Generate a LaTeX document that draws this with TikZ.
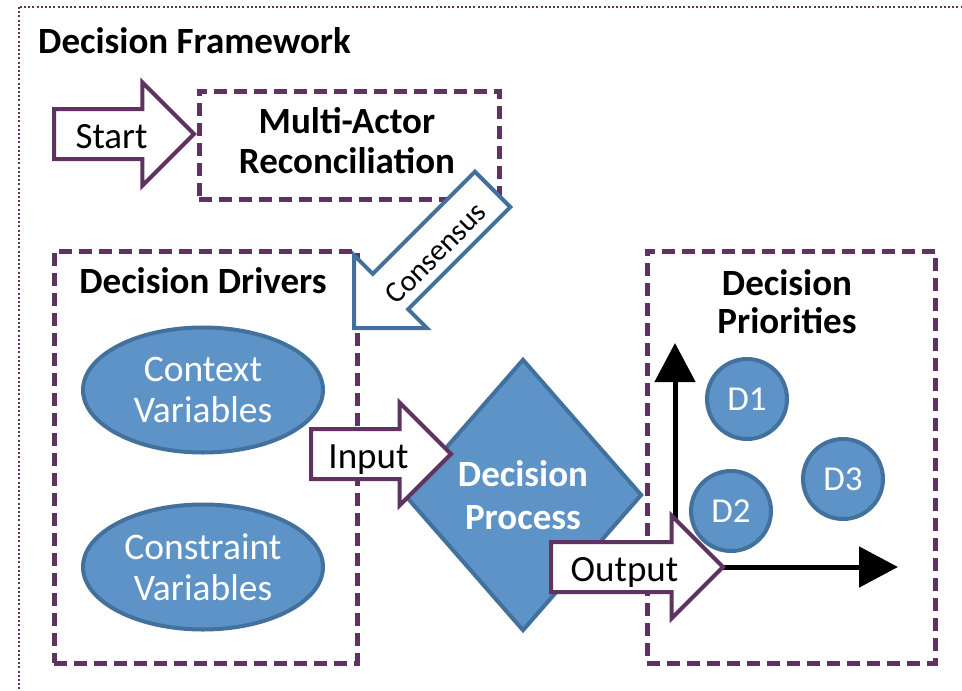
\documentclass[tikz,border=0pt]{standalone}
\usepackage{fontspec}
\setmainfont{Carlito}
\usetikzlibrary{shapes.geometric,shapes.arrows,arrows.meta,positioning}

\definecolor{fwpurple}{RGB}{94,51,96}
\definecolor{fwblue}{RGB}{94,147,199}
\definecolor{fwedge}{RGB}{65,113,156}

\tikzset{
  framedots/.style={draw=fwpurple, line width=2.2pt, dash pattern=on 2pt off 2.2pt},
  dashbox/.style={draw=fwpurple, line width=4.5pt, dash pattern=on 13pt off 7pt, inner sep=0pt},
  heading/.style={font=\bfseries\fontsize{37}{40}\selectfont, align=center, inner sep=0pt},
  blob/.style={ellipse, draw=fwedge, fill=fwblue, line width=4pt, text=white,
    font=\fontsize{37.5}{41}\selectfont, align=center, inner sep=0pt,
    minimum width=240pt, minimum height=125pt},
  process/.style={diamond, draw=fwedge, fill=fwblue, line width=4pt, text=white,
    font=\bfseries\fontsize{37}{43}\selectfont, align=center, inner sep=0pt,
    minimum width=238pt, minimum height=272pt},
  prio/.style={circle, draw=fwedge, fill=fwblue, line width=4pt, text=white,
    font=\fontsize{35}{40}\selectfont, minimum size=80pt, inner sep=0pt},
  blockarrow/.style={single arrow, draw=fwpurple, fill=white, line width=4pt,
    font=\fontsize{37}{40}\selectfont, text height=30pt, text depth=1pt,
    inner ysep=7.5pt, inner xsep=4pt, single arrow head extend=26.5pt,
    single arrow tip angle=90},
  axis/.style={line width=5pt, -{Triangle[length=39pt, width=40pt]}},
}

\begin{document}
\begin{tikzpicture}[x=1pt, y=-1pt]

% General parameters
\def\originX{675}     % Origin of the priority axes
\def\originY{567}
\def\arrowLen{140}    % Length of the short block arrows

% Page and dotted frame
\useasboundingbox (0,0) rectangle (962,691);
\clip (0,0) rectangle (962,691);
\draw[framedots] (19,7) rectangle (1000,720);

% Title
\node[heading, anchor=base west] (title) at (38,53) {Decision Framework};

% Dashed boxes
\node[dashbox, anchor=north west, minimum width=300pt, minimum height=108pt] (reconcile) at (197,89) {};
\node[dashbox, anchor=north west, minimum width=303pt, minimum height=412pt] (drivers) at (52,249) {};
\node[dashbox, anchor=north west, minimum width=288pt, minimum height=412pt] (priorities) at (645,249) {};

% Box headings
\node[heading] (reconcileText) at (347,141) {Multi-Actor\\Reconciliation};
\node[heading, anchor=base] (driversText) at (203,293) {Decision Drivers};
\node[heading, font=\bfseries\fontsize{37}{38}\selectfont] (prioritiesText) at (787,302) {Decision\\Priorities};

% Decision drivers
\node[blob] (context) at (203,390) {Context\\Variables};
\node[blob] (constraint) at (203,567) {Constraint\\Variables};

% Decision process
\node[process] (decide) at (523,495) {Decision\\Process};

% Priorities
\node[prio] (d1) at (747,399) {D1};
\node[prio] (d2) at (731,511) {D2};
\node[prio] (d3) at (843,479) {D3};

% Axes of the priority space
\coordinate (origin) at (\originX,\originY);
\draw[axis] (origin) -- (\originX,343);
\draw[axis] (origin) -- (898,\originY);

% Block arrows
\node[blockarrow, anchor=tail, minimum height=\arrowLen] (start) at (52,134) {Start};
\node[blockarrow, draw=fwedge, anchor=tip, minimum height=196pt, rotate=45,
      shape border rotate=180, font=\fontsize{30}{34}\selectfont] (consensus) at (352,330) {Consensus};
\node[blockarrow, anchor=tail, minimum height=\arrowLen] (input) at (309,454) {Input};
\node[blockarrow, anchor=tail, minimum height=172pt] (output) at (549,567) {Output};

\end{tikzpicture}
\end{document}
